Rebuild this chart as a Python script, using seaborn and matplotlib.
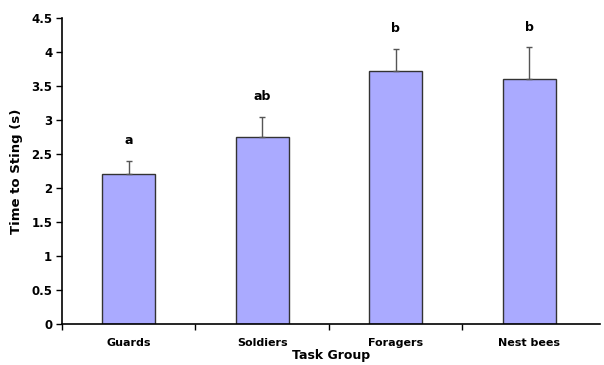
import matplotlib
matplotlib.use("Agg")
import matplotlib.pyplot as plt
import seaborn as sns
import numpy as np
import pandas as pd

groups = ["Guards", "Soldiers", "Foragers", "Nest bees"]
means = [2.21, 2.75, 3.72, 3.61]
errors = [0.19, 0.30, 0.33, 0.46]
letters = ["a", "ab", "b", "b"]

sns.set_theme(style="white")
plt.rcParams["font.family"] = ["DejaVu Sans"]
plt.rcParams["text.color"] = "black"
plt.rcParams["xtick.color"] = "black"
plt.rcParams["ytick.color"] = "black"
plt.rcParams["axes.labelcolor"] = "black"

df = pd.DataFrame({"group": groups, "mean": means})

fig = plt.figure(figsize=(6.04, 3.65), dpi=100)
ax = fig.add_axes([62/604, 1 - 324/365, (600-62)/604, (324-18)/365])

sns.barplot(data=df, x="group", y="mean", color="#AAAAFF", width=0.4,
            edgecolor="#333333", linewidth=1.0, saturation=1, ax=ax)
x = np.arange(len(groups))
ax.errorbar(x, means, yerr=[np.zeros(len(errors)), errors], fmt="none",
            ecolor="#555555", elinewidth=1.0, capsize=2.5, capthick=1.0)
for xi, m, e, lab in zip(x, means, errors, letters):
    ax.text(xi, m + e + 0.2, lab, ha="center", va="bottom",
            fontsize=9, fontweight="bold", color="black")

ax.set_ylim(0, 4.5)
ax.set_yticks(np.arange(0, 4.51, 0.5))
ax.set_yticklabels(["0", "0.5", "1", "1.5", "2", "2.5", "3", "3.5", "4", "4.5"])
ax.set_xlim(-0.5, 3.53)
ax.set_xticks(x)
ax.set_xticklabels(groups)
ax.set_xticks(np.arange(-0.5, 3.0, 1.0), minor=True)
ax.tick_params(axis="x", which="major", length=0, pad=10, labelsize=8)
ax.tick_params(axis="x", which="minor", direction="out", length=4, width=1, color="black", bottom=True)
ax.tick_params(axis="y", direction="out", length=4, width=1, color="black", left=True, labelsize=8.5, pad=3)
for lab in ax.get_xticklabels() + ax.get_yticklabels():
    lab.set_fontweight("bold")
ax.set_xlabel("Task Group", fontsize=9, fontweight="bold", labelpad=1)
ax.set_ylabel("Time to Sting (s)", fontsize=9.5, fontweight="bold", labelpad=6)
for side in ["top", "right"]:
    ax.spines[side].set_visible(False)
for side in ["left", "bottom"]:
    ax.spines[side].set_color("black")
    ax.spines[side].set_linewidth(1.2)

fig.savefig("out.png", dpi=100)
